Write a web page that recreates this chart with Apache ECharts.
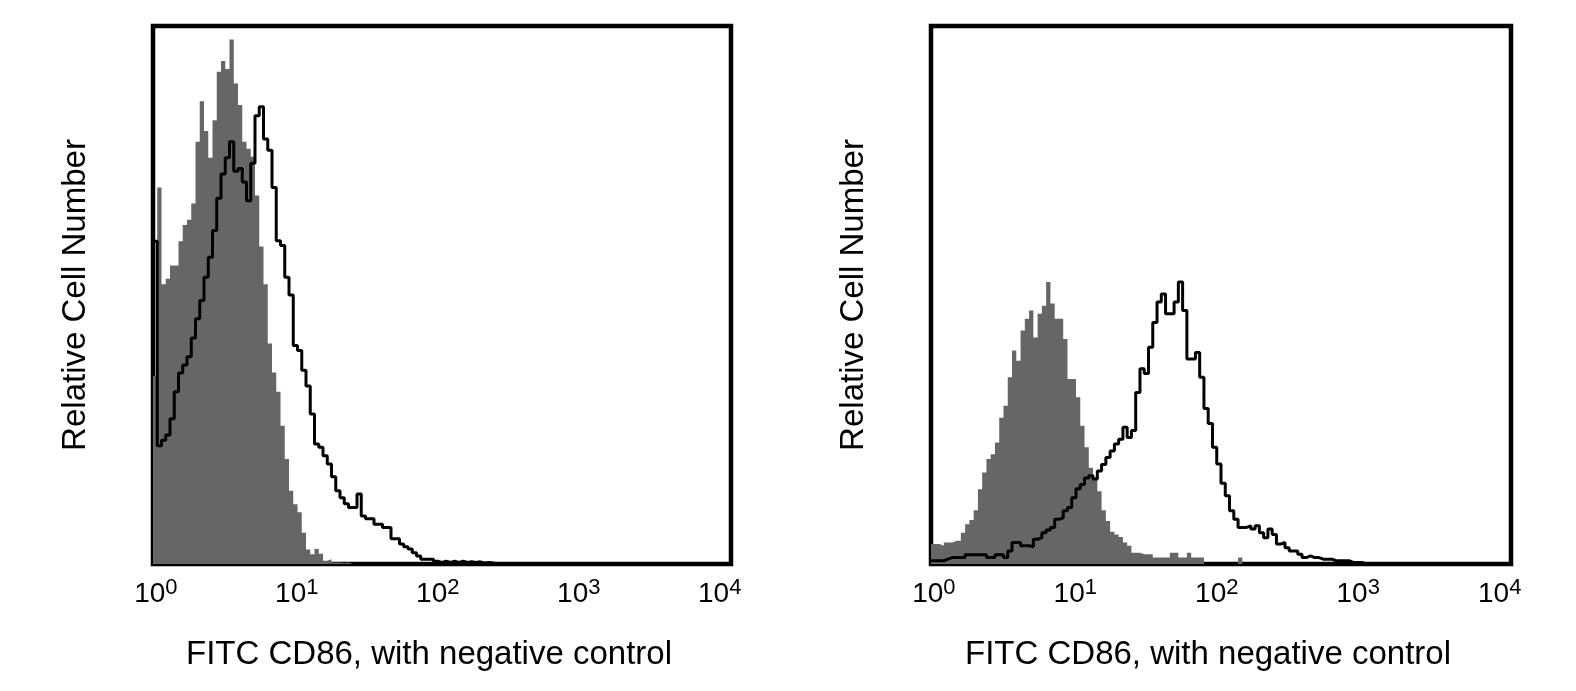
<!DOCTYPE html>
<html>
<head>
<meta charset="utf-8">
<script src="https://cdn.jsdelivr.net/npm/echarts@6/dist/echarts.min.js"></script>
<style>
html,body{margin:0;padding:0;background:#fff;}
#chart{width:1576px;height:691px;}
</style>
</head>
<body>
<div id="chart"></div>
<script>
// Histogram channels (log10 of fluorescence intensity)
const channelLogMin = -0.02;
const channelLogMax = 4.08;
const channelCount = 136;

const tickExponents = [0, 1, 2, 3, 4];
const xAxisTitle = 'FITC CD86, with negative control';
const yAxisTitle = 'Relative Cell Number';

// Left panel: negative control (grey fill) and stained sample (black line)
const leftControl = [35, 70, 52, 53, 55.5, 55.5, 60, 63, 64, 67, 78.5, 86, 80.5, 75.5, 82.5, 91.5, 93.5, 92, 97.5, 89.3,
  85.3, 78.5, 77.2, 75.7, 68.5, 59, 52, 41, 35.6, 32, 25.7, 19.5, 13.6, 11.1, 9.6, 5.8, 2.7, 1.8, 2.8, 1.9,
  0.6, 0.9, 0.3, 0.3, 0.2, 0.3, 0];
const leftStained = [60, 22, 23, 24, 27, 32, 35.5, 37, 38.5, 42, 45.6, 49, 53.3, 57, 62, 68, 72.5, 75.5, 78.5, 73,
  73.5, 71, 67.5, 74.5, 83.3, 85, 79, 76.9, 70, 60.1, 59.2, 53.3, 50, 40.6, 39.7, 36, 33.1, 27.9, 22.3, 21.7,
  20.1, 18.6, 16.2, 13.6, 12.3, 11.2, 10.5, 10.5, 13, 8.9, 8.4, 8.4, 7.4, 7.4, 6.8, 6.8, 4.7, 4.7, 3.7, 3.2,
  2.8, 2.1, 1.5, 0.9, 0.9, 0.9, 0.5, 0.3, 0.5, 0.3, 0.5, 0.3, 0.5, 0.3, 0.4, 0.3, 0.4, 0.2, 0.3, 0.2, 0];

// Right panel
const rightControl = [3.7, 3.7, 3.4, 4.0, 4.0, 4.3, 4.3, 5.8, 7.4, 8.2, 10, 13.9, 17, 19.5, 20.4, 22.6, 27.2, 29.4, 34.7, 39.7,
  37.8, 43.4, 45.6, 47.1, 42.1, 46.5, 48.0, 52.4, 48.4, 45.6, 45.6, 41.8, 34.4, 34.4, 31.0, 25.7, 21.7, 17.9, 16.1, 13.5,
  10, 8, 6, 5.5, 5.0, 4.0, 3.4, 2.1, 2.1, 1.8, 1.8, 1.8, 1.2, 1.2, 1.2, 1.2, 2.1, 2.1, 1.2, 1.2,
  2.1, 1.2, 1.2, 1.2, 0, 0, 0, 0, 0, 0, 0, 0, 1.2, 0];
const rightStained = [0.6, 0.6, 0.6, 0.9, 1.2, 1.2, 1.2, 1.2, 1.7, 1.7, 1.7, 1.7, 1.7, 1.2, 1.2, 1.7, 1.7, 1.2, 2.4, 4.0,
  4.0, 3.4, 3.4, 3.2, 4.6, 4.9, 5.8, 6.3, 6.8, 8.3, 8.6, 9.9, 10.5, 12.3, 14, 14.8, 16, 16.4, 15.8, 17.3,
  18.5, 19.8, 21, 22.3, 23.2, 25.4, 23.5, 24.8, 31.9, 36.3, 35.4, 40.3, 44.9, 48.7, 50.2, 46.5, 46.5, 48.7, 52.4, 47.1,
  38.1, 38.1, 39.3, 34.7, 28.9, 26.1, 21.7, 18.6, 15, 12.7, 9.9, 8.3, 6.8, 6.8, 7.1, 6.5, 7.1, 5.8, 4.9, 6.5,
  5.5, 3.7, 4.0, 3.0, 2.4, 2.4, 1.8, 1.2, 1.5, 1.2, 1.2, 0.9, 0.9, 0.9, 0.6, 0.6, 0.6, 0.6, 0.3, 0.3, 0.3, 0];

function channelEdge(i) {
  return Math.pow(10, channelLogMin + i * (channelLogMax - channelLogMin) / channelCount);
}
function toSteps(values) {
  const pts = values.map((v, i) => [channelEdge(i), v]);
  pts.push([channelEdge(values.length), values[values.length - 1]]);
  return pts;
}

const FONT = '"Liberation Sans", Arial, Helvetica, sans-serif';

function makeXAxis(gridIndex) {
  return {
    type: 'log', gridIndex: gridIndex, logBase: 10,
    min: Math.pow(10, channelLogMin), max: Math.pow(10, channelLogMax),
    axisLine: {show: false}, axisTick: {show: false}, splitLine: {show: false},
    axisLabel: {
      show: true, margin: 13, showMinLabel: false, showMaxLabel: false,
      fontSize: 28, fontFamily: FONT, color: '#000',
      formatter: function (v) {
        const e = Math.log10(v);
        const k = Math.round(e);
        if (Math.abs(e - k) > 1e-6 || tickExponents.indexOf(k) < 0) return '';
        return '{b|10}{s|' + k + '}';
      },
      rich: {
        b: {fontSize: 28, fontFamily: FONT, color: '#000', lineHeight: 35},
        s: {fontSize: 22, fontFamily: FONT, color: '#000', verticalAlign: 'top', lineHeight: 22}
      }
    },
    name: xAxisTitle, nameLocation: 'middle', nameGap: 74,
    nameTextStyle: {fontSize: 33, fontFamily: FONT, color: '#000', padding: [0, 26, 0, 0]}
  };
}
function makeYAxis(gridIndex) {
  return {
    type: 'value', gridIndex: gridIndex, min: 0, max: 100,
    axisLine: {show: false}, axisTick: {show: false}, splitLine: {show: false}, axisLabel: {show: false},
    name: yAxisTitle, nameLocation: 'middle', nameGap: 61,
    nameTextStyle: {fontSize: 33, fontFamily: FONT, color: '#000'}
  };
}
function fillSeries(idx, values) {
  return {
    type: 'line', xAxisIndex: idx, yAxisIndex: idx, step: 'end', symbol: 'none',
    data: toSteps(values), lineStyle: {width: 0, color: '#666666'},
    areaStyle: {color: '#666666', opacity: 1}, z: 2
  };
}
function lineSeries(idx, values) {
  return {
    type: 'line', xAxisIndex: idx, yAxisIndex: idx, step: 'end', symbol: 'none',
    data: toSteps(values), lineStyle: {width: 3, color: '#000'}, z: 3
  };
}

const chart = echarts.init(document.getElementById('chart'), null, {renderer: 'canvas'});
chart.setOption({
  animation: false,
  backgroundColor: '#fff',
  grid: [
    {left: 153, top: 26, width: 578, height: 538, show: true, borderColor: '#000', borderWidth: 4.5, backgroundColor: 'transparent'},
    {left: 931, top: 26, width: 580, height: 538, show: true, borderColor: '#000', borderWidth: 4.5, backgroundColor: 'transparent'}
  ],
  xAxis: [makeXAxis(0), makeXAxis(1)],
  yAxis: [makeYAxis(0), makeYAxis(1)],
  series: [
    fillSeries(0, leftControl), lineSeries(0, leftStained),
    fillSeries(1, rightControl), lineSeries(1, rightStained)
  ]
});
</script>
</body>
</html>
